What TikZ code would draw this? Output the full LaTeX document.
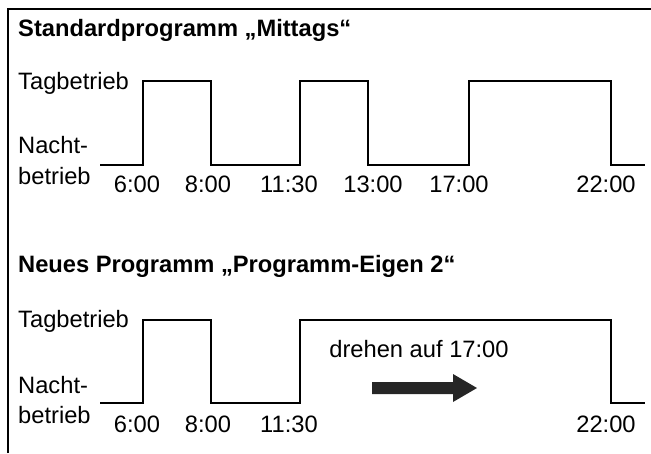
\documentclass[tikz,border=0pt]{standalone}
\usepackage{fontspec}
\setmainfont{Liberation Sans}
\begin{document}
\begin{tikzpicture}[x=1pt,y=-1pt,
  lbl/.style={anchor=base west,inner sep=0pt,font=\fontsize{23.7}{26}\selectfont},
  tm/.style={lbl,anchor=base},
  ttl/.style={lbl,font=\fontsize{23.7}{26}\selectfont\bfseries},
  sig/.style={line width=2pt,line join=miter},
  frame/.style={line width=1.4pt}]
\useasboundingbox (0,0) rectangle (651,453);
% frame
\draw[frame] (8,453) -- (8,9) -- (651,9);
% top
\node[ttl] (t1) at (18,36) {Standardprogramm „Mittags“};
\node[lbl] (tag1) at (18,89) {Tagbetrieb};
\node[lbl] (na1) at (18,153) {Nacht-};
\node[lbl] (be1) at (18,184) {betrieb};
\draw[sig] (100,165) -- (143,165) -- (143,81) -- (211,81) -- (211,165) -- (300,165) -- (300,81)
  -- (368,81) -- (368,165) -- (469,165) -- (469,81) -- (611,81) -- (611,165) -- (645,165);
\node[tm] (a1) at (137,192) {6:00};
\node[tm] (a2) at (208,192) {8:00};
\node[tm] (a3) at (289,192) {11:30};
\node[tm] (a4) at (373,192) {13:00};
\node[tm] (a5) at (459,192) {17:00};
\node[tm] (a6) at (606,192) {22:00};
% bottom
\node[ttl] (t2) at (18,272) {Neues Programm „Programm-Eigen 2“};
\node[lbl] (tag2) at (18,327) {Tagbetrieb};
\node[lbl] (na2) at (18,393) {Nacht-};
\node[lbl] (be2) at (18,423) {betrieb};
\draw[sig] (100,403) -- (143,403) -- (143,320) -- (211,320) -- (211,403) -- (300,403) -- (300,320)
  -- (611,320) -- (611,403) -- (645,403);
\node[tm] (b1) at (137,432) {6:00};
\node[tm] (b2) at (208,432) {8:00};
\node[tm] (b3) at (289,432) {11:30};
\node[tm] (b6) at (606,432) {22:00};
\node[tm] (dr) at (419,357) {drehen auf 17:00};
\fill[black!85] (372,382) -- (453,382) -- (453,374) -- (477,388) -- (453,402) -- (453,394) -- (372,394) -- cycle;
\end{tikzpicture}
\end{document}
